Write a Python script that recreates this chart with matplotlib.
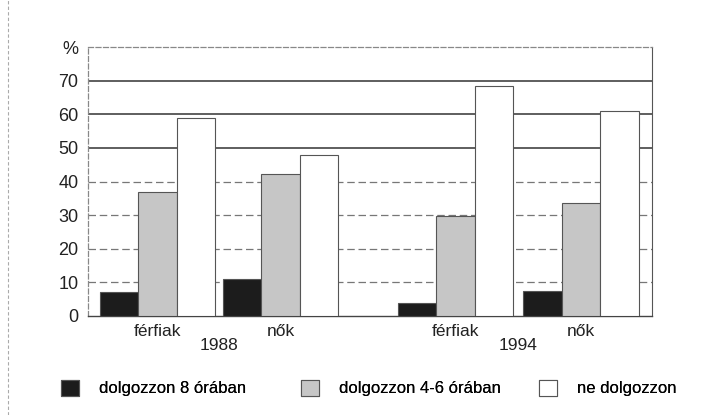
import numpy as np
import matplotlib.pyplot as plt
from matplotlib.patches import Patch

# data
years = ['1988', '1994']
groups = ['férfiak', 'nők', 'férfiak', 'nők']
series = ['dolgozzon 8 órában', 'dolgozzon 4-6 órában', 'ne dolgozzon']
full_time = [7.2, 11.1, 3.8, 7.4]
part_time = [36.8, 42.3, 29.6, 33.5]
no_work = [58.8, 47.8, 68.3, 61.0]

colors = ['#1c1c1c', '#c6c6c6', '#ffffff']
plt.rcParams['font.family'] = ['Liberation Sans', 'DejaVu Sans']

fig = plt.figure(figsize=(7.04, 4.15), dpi=100)
ax = fig.add_axes([88/704, 1-316/415, 564/704, 269/415])

centers = np.array([1.81, 5.0, 9.55, 12.8])
w = 1.0
for k, vals in enumerate([full_time, part_time, no_work]):
    ax.bar(centers + (k-1)*w, vals, width=w, color=colors[k],
           edgecolor='#555555', linewidth=0.8, zorder=3)

ax.set_xlim(0, 14.65)
ax.set_ylim(0, 80)

# grid lines, upper ones look heavier on the scan
for v in range(10, 80, 10):
    if v >= 50:
        ax.axhline(v, color='#333333', lw=1.1, zorder=1)
    else:
        ax.axhline(v, color='#777777', lw=0.9, ls=(0, (6, 3)), zorder=1)

for s in ['top', 'left']:
    ax.spines[s].set_color('#888888')
    ax.spines[s].set_linestyle((0, (4, 2)))
    ax.spines[s].set_linewidth(0.9)
ax.spines['right'].set_color('#555555')
ax.spines['bottom'].set_color('#444444')
ax.spines['bottom'].set_linewidth(1.0)

ticks = list(range(0, 90, 10))
labels = [str(t) for t in ticks[:-1]] + ['%']
ax.set_yticks(ticks)
ax.set_yticklabels(labels, fontsize=13, color='#222222')
ax.tick_params(axis='y', length=0, pad=7)
ax.set_xticks([])

for c, g in zip(centers, groups):
    ax.text(c, -2.3, g, ha='center', va='top', fontsize=12.5, color='#222222')
for i, yr in enumerate(years):
    xc = (centers[2*i] + centers[2*i+1]) / 2
    ax.text(xc, -6.6, yr, ha='center', va='top', fontsize=12.5, color='#222222')

# legend entries placed one by one like in the original
leg_x = [61, 301, 539]
for h_x, c, name in zip(leg_x, colors, series):
    h = Patch(facecolor=c, edgecolor='#555555', linewidth=0.8)
    leg = fig.legend([h], [name], loc='center left',
                     bbox_to_anchor=(h_x/704, 1-388/415), frameon=False,
                     borderpad=0, borderaxespad=0, handlelength=1.1,
                     handleheight=1.1, handletextpad=1.2, fontsize=12)
    fig.add_artist(leg)

# left edge of the scanned frame
fig.add_artist(plt.Line2D([8/704, 8/704], [0, 1], color='#aaaaaa', lw=0.8,
                          ls=(0, (3, 2))))

fig.savefig('out.png', dpi=100)
